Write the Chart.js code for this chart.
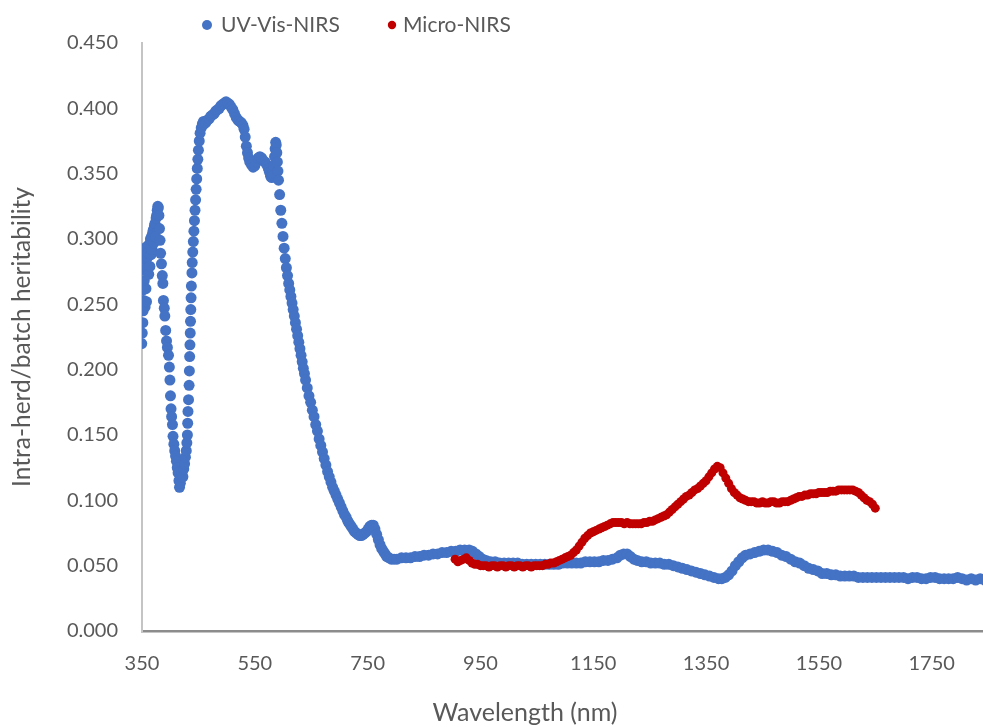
<!DOCTYPE html>
<html>
<head>
<meta charset="utf-8">
<title>Intra-herd/batch heritability</title>
<script src="https://cdn.jsdelivr.net/npm/chart.js@4.4.1/dist/chart.umd.min.js"></script>
<style>
  html, body { margin: 0; padding: 0; background: #fff; overflow: hidden; }
  #wrap { width: 1050px; height: 727px; }
</style>
</head>
<body>
<div id="wrap"><canvas id="chart" width="1050" height="727"></canvas></div>
<script>
// values: [wavelength nm, heritability]
const uvVisNirs = [
  [349.5,0.220],[350.5,0.228],[351.5,0.236],[352,0.245],[352,0.261],[352.5,0.276],[353,0.253],[354,0.268],
  [355,0.284],[355.5,0.248],[356,0.290],[357,0.262],[358,0.252],[358,0.294],[359,0.278],[360,0.286],
  [361,0.289],[362,0.273],[363,0.296],[364,0.279],[365,0.300],[366,0.288],[367,0.302],[368,0.292],
  [369,0.305],[370,0.307],[371,0.297],[372,0.310],[373,0.312],[374,0.302],[375,0.316],[376,0.318],
  [377,0.322],[378,0.325],[379,0.324],[380,0.318],[381,0.308],[382,0.299],
  [383,0.289],[384.5,0.281],[386,0.272],[387,0.266],[388,0.253],[389.5,0.247],[390.5,0.241],[392,0.230],
  [393.5,0.222],[395,0.217],[397,0.211],[398.5,0.202],[399.5,0.192],[400.5,0.180],[401.5,0.170],[402.5,0.164],
  [404,0.158],[405,0.149],[406.5,0.143],[408,0.138],[409.5,0.134],[411,0.130],[412.5,0.125],[414,0.121],
  [415.5,0.115],[416.5,0.110],[418,0.113],[419.5,0.118],[421,0.121],[422.5,0.118],[424,0.124],[425.5,0.128],
  [427,0.133],[428.5,0.138],[429.5,0.144],[430.5,0.150],
  [431,0.159],[431.5,0.168],[432.5,0.177],[433.5,0.188],[434,0.199],[434.5,0.210],[435,0.219],[435.5,0.228],
  [436,0.237],[436.5,0.246],[437,0.255],[437.5,0.264],[438.5,0.274],[439,0.282],[440,0.290],[441,0.298],
  [442,0.306],[443,0.314],[444,0.322],[445,0.330],[446,0.338],[447,0.346],[448,0.354],[449,0.361],
  [450,0.368],[451.5,0.375],[453,0.381],[455,0.385],[457,0.388],[459,0.390],
  [460,0.388],[463,0.389],[466,0.391],[469,0.392],[472,0.394],[475,0.395],[478,0.396],[481,0.398],
  [484,0.399],[487,0.400],[490,0.402],[493,0.403],[496,0.404],[499,0.405],[502,0.404],[505,0.403],
  [508,0.401],[511,0.399],[514,0.396],[517,0.393],[520,0.391],[523,0.390],[526,0.389],[529,0.387],
  [531,0.384],[533,0.378],[535,0.371],[537,0.366],[539,0.362],[541,0.359],[544,0.357],[547,0.355],
  [550,0.356],[553,0.359],[556,0.362],[559,0.363],[562,0.362],[565,0.360],[568,0.359],[571,0.357],
  [574,0.354],[576,0.351],[578,0.348],[580,0.347],[582,0.350],[583.5,0.356],[585,0.363],[586,0.369],
  [587,0.374],[588,0.372],[589,0.366],[590,0.359],[591,0.352],[592,0.345],
  [594,0.334],[596,0.322],[598,0.312],[600,0.302],[602,0.293],[604,0.285],[606,0.278],[608,0.272],
  [610,0.266],[612,0.261],[614,0.256],[616,0.251],[618,0.246],[620,0.241],[622,0.236],[624,0.231],
  [626,0.226],[628,0.221],[630,0.216],[632,0.211],[634,0.206],[636,0.201],[638,0.197],[640,0.192],
  [643,0.186],[646,0.180],[649,0.175],[652,0.169],[655,0.164],[658,0.158],[661,0.153],[664,0.147],
  [667,0.142],[670,0.137],[673,0.132],[676,0.127],[679,0.122],[682,0.118],[685,0.114],[688,0.110],
  [691,0.107],[694,0.104],[697,0.101],[700,0.098],[703,0.095],[706,0.092],[709,0.089],[712,0.087],
  [715,0.084],[718,0.082],[721,0.080],[724,0.078],[727,0.076],[730,0.075],[733,0.074],[736,0.073],
  [739,0.073],[742,0.074],[745,0.075],[748,0.076],[751,0.078],[754,0.080],[757,0.081],[760,0.081],
  [763,0.078],[766,0.074],[769,0.070],[772,0.066],[775,0.063],[778,0.061],[781,0.059],[784,0.057],
  [788,0.056],[792,0.055],[797,0.055],[802,0.055],
  [810,0.056],[818,0.056],[826,0.056],[834,0.057],[842,0.057],[850,0.058],[858,0.058],[866,0.059],
  [874,0.059],[882,0.060],[890,0.060],[898,0.061],[906,0.061],[914,0.062],[922,0.062],[930,0.062],
  [936,0.061],[942,0.059],[948,0.057],[954,0.055],[960,0.054],[968,0.053],[976,0.053],[984,0.052],
  [992,0.052],[1000,0.052],[1008,0.052],[1016,0.052],[1024,0.051],[1032,0.051],[1040,0.051],[1048,0.051],
  [1056,0.051],[1064,0.051],[1072,0.051],[1080,0.051],[1088,0.051],[1096,0.052],[1104,0.052],[1112,0.052],
  [1120,0.052],[1128,0.052],[1136,0.053],[1144,0.053],[1152,0.053],[1160,0.053],[1168,0.054],[1176,0.054],
  [1184,0.055],[1192,0.056],[1198,0.058],[1204,0.059],[1210,0.059],[1216,0.057],[1222,0.055],[1228,0.054],
  [1236,0.053],[1244,0.053],[1252,0.052],[1260,0.052],[1268,0.052],[1276,0.051],[1284,0.051],[1292,0.050],
  [1300,0.049],[1308,0.048],[1316,0.047],[1324,0.046],[1332,0.045],[1340,0.044],[1348,0.043],[1356,0.042],
  [1364,0.041],[1372,0.040],[1378,0.040],[1384,0.041],[1390,0.043],[1396,0.046],[1402,0.050],[1408,0.053],
  [1414,0.056],[1420,0.058],[1428,0.059],[1436,0.060],[1444,0.061],[1452,0.062],[1460,0.062],[1468,0.061],
  [1476,0.060],[1484,0.058],[1492,0.057],[1500,0.055],[1508,0.053],[1516,0.052],[1524,0.050],[1532,0.048],
  [1540,0.047],[1548,0.046],[1556,0.044],[1564,0.044],[1572,0.043],[1580,0.043],[1588,0.042],[1596,0.042],
  [1604,0.042],[1612,0.042],[1620,0.041],[1628,0.041],[1636,0.041],[1644,0.041],[1652,0.041],[1660,0.041],
  [1668,0.041],[1676,0.041],[1684,0.041],[1692,0.041],[1700,0.041],[1708,0.040],[1716,0.041],[1724,0.041],
  [1732,0.040],[1740,0.040],[1748,0.041],[1756,0.041],[1764,0.040],[1772,0.040],[1780,0.040],[1788,0.040],
  [1796,0.041],[1804,0.040],[1812,0.039],[1820,0.040],[1828,0.039],[1836,0.040],[1844,0.039]
];

const microNirs = [
  [905,0.055],[910,0.053],[915,0.054],[920,0.055],[925,0.056],[930,0.054],[935,0.052],[940,0.051],
  [945,0.051],[950,0.050],[955,0.050],[960,0.050],[965,0.049],[970,0.050],[975,0.050],[980,0.049],
  [985,0.050],[990,0.050],[995,0.049],[1000,0.050],[1005,0.050],[1010,0.049],[1015,0.050],[1020,0.050],
  [1025,0.049],[1030,0.050],[1035,0.050],[1040,0.049],[1045,0.050],[1050,0.050],[1055,0.050],[1060,0.050],
  [1065,0.051],[1070,0.051],[1075,0.052],[1080,0.052],[1085,0.053],[1090,0.054],[1095,0.055],[1100,0.056],
  [1105,0.057],[1110,0.058],[1115,0.060],[1120,0.062],[1125,0.065],[1130,0.068],[1135,0.071],[1140,0.073],
  [1145,0.075],[1150,0.076],[1155,0.077],[1160,0.078],[1165,0.079],[1170,0.080],[1175,0.081],[1180,0.082],
  [1185,0.083],[1190,0.083],[1195,0.083],[1200,0.083],[1205,0.082],[1210,0.083],[1215,0.082],[1220,0.082],
  [1225,0.082],[1230,0.082],[1235,0.082],[1240,0.083],[1245,0.083],[1250,0.084],[1255,0.084],[1260,0.085],
  [1265,0.086],[1270,0.087],[1275,0.088],[1280,0.089],[1285,0.091],[1290,0.093],[1295,0.095],[1300,0.097],
  [1305,0.099],[1310,0.101],[1315,0.103],[1320,0.104],[1325,0.106],[1330,0.108],[1335,0.109],[1340,0.111],
  [1345,0.113],[1350,0.115],[1355,0.118],[1360,0.121],[1365,0.124],[1370,0.126],[1375,0.125],[1380,0.121],
  [1385,0.117],[1390,0.113],[1395,0.109],[1400,0.106],[1405,0.104],[1410,0.102],[1415,0.101],[1420,0.100],
  [1425,0.099],[1430,0.099],[1435,0.099],[1440,0.098],[1445,0.098],[1450,0.099],[1455,0.098],[1460,0.098],
  [1465,0.099],[1470,0.099],[1475,0.098],[1480,0.098],[1485,0.099],[1490,0.099],[1495,0.099],[1500,0.100],
  [1505,0.101],[1510,0.102],[1515,0.103],[1520,0.103],[1525,0.104],[1530,0.104],[1535,0.105],[1540,0.105],
  [1545,0.105],[1550,0.106],[1555,0.106],[1560,0.106],[1565,0.106],[1570,0.107],[1575,0.107],[1580,0.107],
  [1585,0.108],[1590,0.108],[1595,0.108],[1600,0.108],[1605,0.108],[1610,0.108],[1615,0.107],[1620,0.106],
  [1625,0.104],[1630,0.102],[1635,0.100],[1640,0.099],[1645,0.097],[1650,0.094]
];

const seriesNames = ['UV-Vis-NIRS', 'Micro-NIRS'];
const xTickValues = [350, 550, 750, 950, 1150, 1350, 1550, 1750];

const FONT = 'Lato';
const GREY = '#595959';
const legendDotX = [207, 392];
const legendTextX = [221, 403];
const legendR = [5, 4.2];

// hand-drawn legend so the two items sit left of centre like the original
const legendDots = {
  id: 'legendDots',
  afterDraw(chart) {
    const ctx = chart.ctx;
    ctx.save();
    ctx.font = '21px ' + FONT;
    ctx.textBaseline = 'middle';
    ctx.textAlign = 'left';
    chart.data.datasets.forEach((ds, i) => {
      ctx.fillStyle = ds.backgroundColor;
      ctx.beginPath(); ctx.arc(legendDotX[i], 25, legendR[i], 0, Math.PI * 2); ctx.fill();
      ctx.fillStyle = GREY;
      ctx.fillText(ds.label, legendTextX[i], 25);
    });
    ctx.restore();
  }
};

const toPts = arr => arr.map(p => ({ x: p[0], y: p[1] }));

new Chart(document.getElementById('chart'), {
  type: 'scatter',
  data: {
    datasets: [
      { label: seriesNames[0], data: toPts(uvVisNirs), backgroundColor: '#4472C4', borderWidth: 0,
        pointRadius: 5.5, pointHoverRadius: 5.5, order: 1 },
      { label: seriesNames[1], data: toPts(microNirs), backgroundColor: '#C00000', borderWidth: 0,
        pointRadius: 4.5, pointHoverRadius: 4.5, order: 0 }
    ]
  },
  options: {
    responsive: false,
    animation: false,
    layout: { padding: { top: 43, left: 0, right: 0, bottom: 0 } },
    plugins: {
      legend: { display: false },
      tooltip: { enabled: false },
      title: {
        display: true, position: 'bottom', text: 'Wavelength (nm)', color: GREY,
        font: { family: FONT, size: 25, weight: 'normal', lineHeight: 1.1 }, padding: { top: 0, bottom: 0 }
      }
    },
    scales: {
      x: {
        type: 'linear', min: 350, max: 1950,
        afterBuildTicks: s => { s.ticks = xTickValues.map(v => ({ value: v })); },
        afterFit: s => { s.height = 68.5; },
        grid: { display: false, drawTicks: false },
        border: { display: true, color: '#8c8c8c', width: 2.5 },
        ticks: { color: GREY, padding: 21, maxRotation: 0, font: { family: FONT, size: 20 },
                 callback: v => String(v) }
      },
      y: {
        min: 0, max: 0.45,
        afterFit: s => { s.width = 142; },
        grid: { display: false, drawTicks: false },
        border: { display: true, color: '#c4c4c4', width: 2 },
        ticks: { stepSize: 0.05, color: GREY, padding: 24, font: { family: FONT, size: 20 },
                 callback: v => v.toFixed(3) },
        title: { display: true, text: 'Intra-herd/batch heritability', color: GREY,
                 font: { family: FONT, size: 24.5, weight: 'normal' }, padding: { top: 7, bottom: 0 } }
      }
    }
  },
  plugins: [legendDots]
});
</script>
</body>
</html>
